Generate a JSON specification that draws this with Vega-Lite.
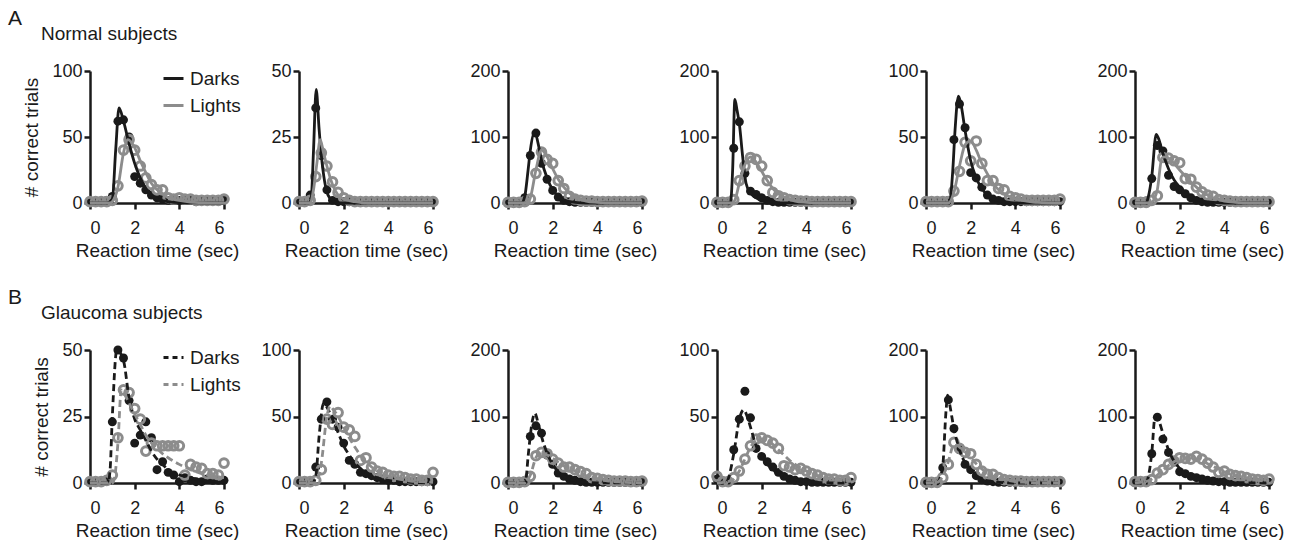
{
"$schema":"https://vega.github.io/schema/vega-lite/v6.json",
"padding":{"left":8,"top":8,"right":5,"bottom":5},
"background":"white",
"config":{
 "font":"Liberation Sans",
 "view":{"stroke":null},
 "axis":{"grid":false,"domainColor":"#1a1a1a","domainWidth":2.5,"tickColor":"#1a1a1a","tickWidth":2.5,"tickSize":6,"labelFont":"Liberation Sans","labelFontSize":18,"labelColor":"#1a1a1a","labelPadding":2,"titleFont":"Liberation Sans","titleFontSize":19,"titleFontWeight":"normal","titleColor":"#1a1a1a"},
 "axisX":{"labelPadding":10,"titlePadding":4},
 "axisY":{"titlePadding":10},
 "title":{"anchor":"start","frame":"group","font":"Liberation Sans","fontWeight":"normal","color":"#1a1a1a"},
 "legend":{"padding":0}
},
"datasets":{
"obs":[
{"p":"A1","s":"Darks","t":0,"v":1},{"p":"A1","s":"Darks","t":0.25,"v":1},{"p":"A1","s":"Darks","t":0.5,"v":1},{"p":"A1","s":"Darks","t":0.75,"v":2},{"p":"A1","s":"Darks","t":1,"v":5},{"p":"A1","s":"Darks","t":1.25,"v":62},{"p":"A1","s":"Darks","t":1.5,"v":63},{"p":"A1","s":"Darks","t":1.75,"v":50},{"p":"A1","s":"Darks","t":2,"v":20},{"p":"A1","s":"Darks","t":2.25,"v":15},{"p":"A1","s":"Darks","t":2.5,"v":10},{"p":"A1","s":"Darks","t":2.75,"v":6},{"p":"A1","s":"Darks","t":3,"v":4},{"p":"A1","s":"Darks","t":3.25,"v":3},{"p":"A1","s":"Darks","t":3.5,"v":2},{"p":"A1","s":"Darks","t":3.75,"v":2},{"p":"A1","s":"Darks","t":4,"v":2},{"p":"A1","s":"Darks","t":4.25,"v":2},{"p":"A1","s":"Darks","t":4.5,"v":2},{"p":"A1","s":"Darks","t":4.75,"v":1},{"p":"A1","s":"Darks","t":5,"v":2},{"p":"A1","s":"Darks","t":5.25,"v":2},{"p":"A1","s":"Darks","t":5.5,"v":2},{"p":"A1","s":"Darks","t":5.75,"v":2},{"p":"A1","s":"Darks","t":6,"v":3},
{"p":"A1","s":"Lights","t":0,"v":1},{"p":"A1","s":"Lights","t":0.25,"v":1},{"p":"A1","s":"Lights","t":0.5,"v":1},{"p":"A1","s":"Lights","t":0.75,"v":1},{"p":"A1","s":"Lights","t":1,"v":2},{"p":"A1","s":"Lights","t":1.25,"v":13},{"p":"A1","s":"Lights","t":1.5,"v":40},{"p":"A1","s":"Lights","t":1.75,"v":48},{"p":"A1","s":"Lights","t":2,"v":40},{"p":"A1","s":"Lights","t":2.25,"v":28},{"p":"A1","s":"Lights","t":2.5,"v":19},{"p":"A1","s":"Lights","t":2.75,"v":14},{"p":"A1","s":"Lights","t":3,"v":10},{"p":"A1","s":"Lights","t":3.25,"v":10},{"p":"A1","s":"Lights","t":3.5,"v":4},{"p":"A1","s":"Lights","t":3.75,"v":3},{"p":"A1","s":"Lights","t":4,"v":4},{"p":"A1","s":"Lights","t":4.25,"v":3},{"p":"A1","s":"Lights","t":4.5,"v":3},{"p":"A1","s":"Lights","t":4.75,"v":2},{"p":"A1","s":"Lights","t":5,"v":2},{"p":"A1","s":"Lights","t":5.25,"v":2},{"p":"A1","s":"Lights","t":5.5,"v":2},{"p":"A1","s":"Lights","t":5.75,"v":2},{"p":"A1","s":"Lights","t":6,"v":3},
{"p":"A2","s":"Darks","t":0,"v":0.5},{"p":"A2","s":"Darks","t":0.25,"v":0.5},{"p":"A2","s":"Darks","t":0.5,"v":3},{"p":"A2","s":"Darks","t":0.75,"v":36},{"p":"A2","s":"Darks","t":1,"v":18},{"p":"A2","s":"Darks","t":1.25,"v":5},{"p":"A2","s":"Darks","t":1.5,"v":1},{"p":"A2","s":"Darks","t":1.75,"v":0.5},{"p":"A2","s":"Darks","t":2,"v":0.5},{"p":"A2","s":"Darks","t":2.25,"v":0.5},{"p":"A2","s":"Darks","t":2.5,"v":0.5},{"p":"A2","s":"Darks","t":2.75,"v":0.5},{"p":"A2","s":"Darks","t":3,"v":0.5},{"p":"A2","s":"Darks","t":3.25,"v":0.5},{"p":"A2","s":"Darks","t":3.5,"v":0.5},{"p":"A2","s":"Darks","t":3.75,"v":0.5},{"p":"A2","s":"Darks","t":4,"v":0.5},{"p":"A2","s":"Darks","t":4.25,"v":0.5},{"p":"A2","s":"Darks","t":4.5,"v":0.5},{"p":"A2","s":"Darks","t":4.75,"v":0.5},{"p":"A2","s":"Darks","t":5,"v":0.5},{"p":"A2","s":"Darks","t":5.25,"v":0.5},{"p":"A2","s":"Darks","t":5.5,"v":0.5},{"p":"A2","s":"Darks","t":5.75,"v":0.5},{"p":"A2","s":"Darks","t":6,"v":0.5},
{"p":"A2","s":"Lights","t":0,"v":0.5},{"p":"A2","s":"Lights","t":0.25,"v":0.5},{"p":"A2","s":"Lights","t":0.5,"v":1},{"p":"A2","s":"Lights","t":0.75,"v":10},{"p":"A2","s":"Lights","t":1,"v":19},{"p":"A2","s":"Lights","t":1.25,"v":14},{"p":"A2","s":"Lights","t":1.5,"v":8},{"p":"A2","s":"Lights","t":1.75,"v":4},{"p":"A2","s":"Lights","t":2,"v":2},{"p":"A2","s":"Lights","t":2.25,"v":1},{"p":"A2","s":"Lights","t":2.5,"v":0.5},{"p":"A2","s":"Lights","t":2.75,"v":0.5},{"p":"A2","s":"Lights","t":3,"v":0.5},{"p":"A2","s":"Lights","t":3.25,"v":0.5},{"p":"A2","s":"Lights","t":3.5,"v":0.5},{"p":"A2","s":"Lights","t":3.75,"v":0.5},{"p":"A2","s":"Lights","t":4,"v":0.5},{"p":"A2","s":"Lights","t":4.25,"v":0.5},{"p":"A2","s":"Lights","t":4.5,"v":0.5},{"p":"A2","s":"Lights","t":4.75,"v":0.5},{"p":"A2","s":"Lights","t":5,"v":0.5},{"p":"A2","s":"Lights","t":5.25,"v":0.5},{"p":"A2","s":"Lights","t":5.5,"v":0.5},{"p":"A2","s":"Lights","t":5.75,"v":0.5},{"p":"A2","s":"Lights","t":6,"v":0.5},
{"p":"A3","s":"Darks","t":0,"v":1},{"p":"A3","s":"Darks","t":0.25,"v":1},{"p":"A3","s":"Darks","t":0.5,"v":2},{"p":"A3","s":"Darks","t":0.75,"v":8},{"p":"A3","s":"Darks","t":1,"v":72},{"p":"A3","s":"Darks","t":1.25,"v":106},{"p":"A3","s":"Darks","t":1.5,"v":60},{"p":"A3","s":"Darks","t":1.75,"v":36},{"p":"A3","s":"Darks","t":2,"v":19},{"p":"A3","s":"Darks","t":2.25,"v":9},{"p":"A3","s":"Darks","t":2.5,"v":4},{"p":"A3","s":"Darks","t":2.75,"v":2},{"p":"A3","s":"Darks","t":3,"v":1},{"p":"A3","s":"Darks","t":3.25,"v":1},{"p":"A3","s":"Darks","t":3.5,"v":1},{"p":"A3","s":"Darks","t":3.75,"v":1},{"p":"A3","s":"Darks","t":4,"v":1},{"p":"A3","s":"Darks","t":4.25,"v":1},{"p":"A3","s":"Darks","t":4.5,"v":1},{"p":"A3","s":"Darks","t":4.75,"v":1},{"p":"A3","s":"Darks","t":5,"v":1},{"p":"A3","s":"Darks","t":5.25,"v":1},{"p":"A3","s":"Darks","t":5.5,"v":1},{"p":"A3","s":"Darks","t":5.75,"v":1},{"p":"A3","s":"Darks","t":6,"v":1},
{"p":"A3","s":"Lights","t":0,"v":1},{"p":"A3","s":"Lights","t":0.25,"v":1},{"p":"A3","s":"Lights","t":0.5,"v":1},{"p":"A3","s":"Lights","t":0.75,"v":2},{"p":"A3","s":"Lights","t":1,"v":6},{"p":"A3","s":"Lights","t":1.25,"v":45},{"p":"A3","s":"Lights","t":1.5,"v":77},{"p":"A3","s":"Lights","t":1.75,"v":66},{"p":"A3","s":"Lights","t":2,"v":60},{"p":"A3","s":"Lights","t":2.25,"v":34},{"p":"A3","s":"Lights","t":2.5,"v":22},{"p":"A3","s":"Lights","t":2.75,"v":10},{"p":"A3","s":"Lights","t":3,"v":6},{"p":"A3","s":"Lights","t":3.25,"v":4},{"p":"A3","s":"Lights","t":3.5,"v":3},{"p":"A3","s":"Lights","t":3.75,"v":3},{"p":"A3","s":"Lights","t":4,"v":2},{"p":"A3","s":"Lights","t":4.25,"v":2},{"p":"A3","s":"Lights","t":4.5,"v":2},{"p":"A3","s":"Lights","t":4.75,"v":2},{"p":"A3","s":"Lights","t":5,"v":2},{"p":"A3","s":"Lights","t":5.25,"v":2},{"p":"A3","s":"Lights","t":5.5,"v":2},{"p":"A3","s":"Lights","t":5.75,"v":2},{"p":"A3","s":"Lights","t":6,"v":3},
{"p":"A4","s":"Darks","t":0,"v":1},{"p":"A4","s":"Darks","t":0.25,"v":1},{"p":"A4","s":"Darks","t":0.5,"v":2},{"p":"A4","s":"Darks","t":0.75,"v":83},{"p":"A4","s":"Darks","t":1,"v":123},{"p":"A4","s":"Darks","t":1.25,"v":45},{"p":"A4","s":"Darks","t":1.5,"v":18},{"p":"A4","s":"Darks","t":1.75,"v":13},{"p":"A4","s":"Darks","t":2,"v":8},{"p":"A4","s":"Darks","t":2.25,"v":4},{"p":"A4","s":"Darks","t":2.5,"v":2},{"p":"A4","s":"Darks","t":2.75,"v":1},{"p":"A4","s":"Darks","t":3,"v":1},{"p":"A4","s":"Darks","t":3.25,"v":1},{"p":"A4","s":"Darks","t":3.5,"v":1},{"p":"A4","s":"Darks","t":3.75,"v":1},{"p":"A4","s":"Darks","t":4,"v":1},{"p":"A4","s":"Darks","t":4.25,"v":1},{"p":"A4","s":"Darks","t":4.5,"v":1},{"p":"A4","s":"Darks","t":4.75,"v":1},{"p":"A4","s":"Darks","t":5,"v":1},{"p":"A4","s":"Darks","t":5.25,"v":1},{"p":"A4","s":"Darks","t":5.5,"v":1},{"p":"A4","s":"Darks","t":5.75,"v":1},{"p":"A4","s":"Darks","t":6,"v":1},
{"p":"A4","s":"Lights","t":0,"v":1},{"p":"A4","s":"Lights","t":0.25,"v":1},{"p":"A4","s":"Lights","t":0.5,"v":1},{"p":"A4","s":"Lights","t":0.75,"v":5},{"p":"A4","s":"Lights","t":1,"v":34},{"p":"A4","s":"Lights","t":1.25,"v":56},{"p":"A4","s":"Lights","t":1.5,"v":69},{"p":"A4","s":"Lights","t":1.75,"v":66},{"p":"A4","s":"Lights","t":2,"v":56},{"p":"A4","s":"Lights","t":2.25,"v":34},{"p":"A4","s":"Lights","t":2.5,"v":16},{"p":"A4","s":"Lights","t":2.75,"v":11},{"p":"A4","s":"Lights","t":3,"v":8},{"p":"A4","s":"Lights","t":3.25,"v":5},{"p":"A4","s":"Lights","t":3.5,"v":4},{"p":"A4","s":"Lights","t":3.75,"v":3},{"p":"A4","s":"Lights","t":4,"v":3},{"p":"A4","s":"Lights","t":4.25,"v":2},{"p":"A4","s":"Lights","t":4.5,"v":2},{"p":"A4","s":"Lights","t":4.75,"v":2},{"p":"A4","s":"Lights","t":5,"v":2},{"p":"A4","s":"Lights","t":5.25,"v":2},{"p":"A4","s":"Lights","t":5.5,"v":2},{"p":"A4","s":"Lights","t":5.75,"v":2},{"p":"A4","s":"Lights","t":6,"v":2},
{"p":"A5","s":"Darks","t":0,"v":1},{"p":"A5","s":"Darks","t":0.25,"v":1},{"p":"A5","s":"Darks","t":0.5,"v":1},{"p":"A5","s":"Darks","t":0.75,"v":1},{"p":"A5","s":"Darks","t":1,"v":2},{"p":"A5","s":"Darks","t":1.25,"v":48},{"p":"A5","s":"Darks","t":1.5,"v":75},{"p":"A5","s":"Darks","t":1.75,"v":57},{"p":"A5","s":"Darks","t":2,"v":23},{"p":"A5","s":"Darks","t":2.25,"v":19},{"p":"A5","s":"Darks","t":2.5,"v":12},{"p":"A5","s":"Darks","t":2.75,"v":6},{"p":"A5","s":"Darks","t":3,"v":3},{"p":"A5","s":"Darks","t":3.25,"v":2},{"p":"A5","s":"Darks","t":3.5,"v":1},{"p":"A5","s":"Darks","t":3.75,"v":1},{"p":"A5","s":"Darks","t":4,"v":1},{"p":"A5","s":"Darks","t":4.25,"v":1},{"p":"A5","s":"Darks","t":4.5,"v":1},{"p":"A5","s":"Darks","t":4.75,"v":1},{"p":"A5","s":"Darks","t":5,"v":1},{"p":"A5","s":"Darks","t":5.25,"v":1},{"p":"A5","s":"Darks","t":5.5,"v":1},{"p":"A5","s":"Darks","t":5.75,"v":1},{"p":"A5","s":"Darks","t":6,"v":1},
{"p":"A5","s":"Lights","t":0,"v":1},{"p":"A5","s":"Lights","t":0.25,"v":1},{"p":"A5","s":"Lights","t":0.5,"v":1},{"p":"A5","s":"Lights","t":0.75,"v":1},{"p":"A5","s":"Lights","t":1,"v":1},{"p":"A5","s":"Lights","t":1.25,"v":9},{"p":"A5","s":"Lights","t":1.5,"v":24},{"p":"A5","s":"Lights","t":1.75,"v":46},{"p":"A5","s":"Lights","t":2,"v":32},{"p":"A5","s":"Lights","t":2.25,"v":47},{"p":"A5","s":"Lights","t":2.5,"v":30},{"p":"A5","s":"Lights","t":2.75,"v":17},{"p":"A5","s":"Lights","t":3,"v":17},{"p":"A5","s":"Lights","t":3.25,"v":11},{"p":"A5","s":"Lights","t":3.5,"v":10},{"p":"A5","s":"Lights","t":3.75,"v":5},{"p":"A5","s":"Lights","t":4,"v":4},{"p":"A5","s":"Lights","t":4.25,"v":3},{"p":"A5","s":"Lights","t":4.5,"v":2},{"p":"A5","s":"Lights","t":4.75,"v":2},{"p":"A5","s":"Lights","t":5,"v":2},{"p":"A5","s":"Lights","t":5.25,"v":2},{"p":"A5","s":"Lights","t":5.5,"v":2},{"p":"A5","s":"Lights","t":5.75,"v":2},{"p":"A5","s":"Lights","t":6,"v":3},
{"p":"A6","s":"Darks","t":0,"v":1},{"p":"A6","s":"Darks","t":0.25,"v":1},{"p":"A6","s":"Darks","t":0.5,"v":3},{"p":"A6","s":"Darks","t":0.75,"v":37},{"p":"A6","s":"Darks","t":1,"v":87},{"p":"A6","s":"Darks","t":1.25,"v":79},{"p":"A6","s":"Darks","t":1.5,"v":42},{"p":"A6","s":"Darks","t":1.75,"v":25},{"p":"A6","s":"Darks","t":2,"v":20},{"p":"A6","s":"Darks","t":2.25,"v":14},{"p":"A6","s":"Darks","t":2.5,"v":8},{"p":"A6","s":"Darks","t":2.75,"v":4},{"p":"A6","s":"Darks","t":3,"v":2},{"p":"A6","s":"Darks","t":3.25,"v":1},{"p":"A6","s":"Darks","t":3.5,"v":1},{"p":"A6","s":"Darks","t":3.75,"v":1},{"p":"A6","s":"Darks","t":4,"v":1},{"p":"A6","s":"Darks","t":4.25,"v":1},{"p":"A6","s":"Darks","t":4.5,"v":1},{"p":"A6","s":"Darks","t":4.75,"v":1},{"p":"A6","s":"Darks","t":5,"v":1},{"p":"A6","s":"Darks","t":5.25,"v":1},{"p":"A6","s":"Darks","t":5.5,"v":1},{"p":"A6","s":"Darks","t":5.75,"v":1},{"p":"A6","s":"Darks","t":6,"v":1},
{"p":"A6","s":"Lights","t":0,"v":1},{"p":"A6","s":"Lights","t":0.25,"v":1},{"p":"A6","s":"Lights","t":0.5,"v":1},{"p":"A6","s":"Lights","t":0.75,"v":4},{"p":"A6","s":"Lights","t":1,"v":11},{"p":"A6","s":"Lights","t":1.25,"v":69},{"p":"A6","s":"Lights","t":1.5,"v":68},{"p":"A6","s":"Lights","t":1.75,"v":64},{"p":"A6","s":"Lights","t":2,"v":61},{"p":"A6","s":"Lights","t":2.25,"v":37},{"p":"A6","s":"Lights","t":2.5,"v":36},{"p":"A6","s":"Lights","t":2.75,"v":24},{"p":"A6","s":"Lights","t":3,"v":17},{"p":"A6","s":"Lights","t":3.25,"v":12},{"p":"A6","s":"Lights","t":3.5,"v":10},{"p":"A6","s":"Lights","t":3.75,"v":5},{"p":"A6","s":"Lights","t":4,"v":4},{"p":"A6","s":"Lights","t":4.25,"v":3},{"p":"A6","s":"Lights","t":4.5,"v":2},{"p":"A6","s":"Lights","t":4.75,"v":2},{"p":"A6","s":"Lights","t":5,"v":2},{"p":"A6","s":"Lights","t":5.25,"v":2},{"p":"A6","s":"Lights","t":5.5,"v":2},{"p":"A6","s":"Lights","t":5.75,"v":2},{"p":"A6","s":"Lights","t":6,"v":2},
{"p":"B1","s":"Darks","t":0,"v":0.5},{"p":"B1","s":"Darks","t":0.25,"v":0.5},{"p":"B1","s":"Darks","t":0.5,"v":0.5},{"p":"B1","s":"Darks","t":0.75,"v":1},{"p":"B1","s":"Darks","t":1,"v":23},{"p":"B1","s":"Darks","t":1.25,"v":50},{"p":"B1","s":"Darks","t":1.5,"v":47},{"p":"B1","s":"Darks","t":1.75,"v":31},{"p":"B1","s":"Darks","t":2,"v":15},{"p":"B1","s":"Darks","t":2.25,"v":18},{"p":"B1","s":"Darks","t":2.5,"v":23},{"p":"B1","s":"Darks","t":2.75,"v":17},{"p":"B1","s":"Darks","t":3,"v":5},{"p":"B1","s":"Darks","t":3.25,"v":8},{"p":"B1","s":"Darks","t":3.5,"v":4},{"p":"B1","s":"Darks","t":3.75,"v":3},{"p":"B1","s":"Darks","t":4,"v":0.5},{"p":"B1","s":"Darks","t":4.25,"v":2},{"p":"B1","s":"Darks","t":4.5,"v":1},{"p":"B1","s":"Darks","t":4.75,"v":0.5},{"p":"B1","s":"Darks","t":5,"v":0.5},{"p":"B1","s":"Darks","t":5.25,"v":1.5},{"p":"B1","s":"Darks","t":5.5,"v":1},{"p":"B1","s":"Darks","t":5.75,"v":1},{"p":"B1","s":"Darks","t":6,"v":1},
{"p":"B1","s":"Lights","t":0,"v":0.5},{"p":"B1","s":"Lights","t":0.25,"v":0.5},{"p":"B1","s":"Lights","t":0.5,"v":0.5},{"p":"B1","s":"Lights","t":0.75,"v":1},{"p":"B1","s":"Lights","t":1,"v":3},{"p":"B1","s":"Lights","t":1.25,"v":17},{"p":"B1","s":"Lights","t":1.5,"v":35},{"p":"B1","s":"Lights","t":1.75,"v":34},{"p":"B1","s":"Lights","t":2,"v":28},{"p":"B1","s":"Lights","t":2.25,"v":24},{"p":"B1","s":"Lights","t":2.5,"v":12},{"p":"B1","s":"Lights","t":2.75,"v":15},{"p":"B1","s":"Lights","t":3,"v":14},{"p":"B1","s":"Lights","t":3.25,"v":14},{"p":"B1","s":"Lights","t":3.5,"v":14},{"p":"B1","s":"Lights","t":3.75,"v":14},{"p":"B1","s":"Lights","t":4,"v":14},{"p":"B1","s":"Lights","t":4.25,"v":3},{"p":"B1","s":"Lights","t":4.5,"v":7},{"p":"B1","s":"Lights","t":4.75,"v":6},{"p":"B1","s":"Lights","t":5,"v":5.5},{"p":"B1","s":"Lights","t":5.25,"v":3.5},{"p":"B1","s":"Lights","t":5.5,"v":3.5},{"p":"B1","s":"Lights","t":5.75,"v":3},{"p":"B1","s":"Lights","t":6,"v":7.5},
{"p":"B2","s":"Darks","t":0,"v":0.5},{"p":"B2","s":"Darks","t":0.25,"v":0.5},{"p":"B2","s":"Darks","t":0.5,"v":1},{"p":"B2","s":"Darks","t":0.75,"v":12},{"p":"B2","s":"Darks","t":1,"v":48},{"p":"B2","s":"Darks","t":1.25,"v":61},{"p":"B2","s":"Darks","t":1.5,"v":48},{"p":"B2","s":"Darks","t":1.75,"v":42},{"p":"B2","s":"Darks","t":2,"v":30},{"p":"B2","s":"Darks","t":2.25,"v":17},{"p":"B2","s":"Darks","t":2.5,"v":14},{"p":"B2","s":"Darks","t":2.75,"v":8},{"p":"B2","s":"Darks","t":3,"v":7},{"p":"B2","s":"Darks","t":3.25,"v":5.5},{"p":"B2","s":"Darks","t":3.5,"v":4},{"p":"B2","s":"Darks","t":3.75,"v":3},{"p":"B2","s":"Darks","t":4,"v":2},{"p":"B2","s":"Darks","t":4.25,"v":2},{"p":"B2","s":"Darks","t":4.5,"v":1},{"p":"B2","s":"Darks","t":4.75,"v":1},{"p":"B2","s":"Darks","t":5,"v":1},{"p":"B2","s":"Darks","t":5.25,"v":1},{"p":"B2","s":"Darks","t":5.5,"v":1},{"p":"B2","s":"Darks","t":5.75,"v":1},{"p":"B2","s":"Darks","t":6,"v":1},
{"p":"B2","s":"Lights","t":0,"v":1},{"p":"B2","s":"Lights","t":0.25,"v":1},{"p":"B2","s":"Lights","t":0.5,"v":1},{"p":"B2","s":"Lights","t":0.75,"v":2},{"p":"B2","s":"Lights","t":1,"v":10},{"p":"B2","s":"Lights","t":1.25,"v":48},{"p":"B2","s":"Lights","t":1.5,"v":44},{"p":"B2","s":"Lights","t":1.75,"v":53},{"p":"B2","s":"Lights","t":2,"v":42},{"p":"B2","s":"Lights","t":2.25,"v":40},{"p":"B2","s":"Lights","t":2.5,"v":35},{"p":"B2","s":"Lights","t":2.75,"v":17},{"p":"B2","s":"Lights","t":3,"v":19},{"p":"B2","s":"Lights","t":3.25,"v":12},{"p":"B2","s":"Lights","t":3.5,"v":9},{"p":"B2","s":"Lights","t":3.75,"v":8},{"p":"B2","s":"Lights","t":4,"v":6},{"p":"B2","s":"Lights","t":4.25,"v":5},{"p":"B2","s":"Lights","t":4.5,"v":5},{"p":"B2","s":"Lights","t":4.75,"v":4},{"p":"B2","s":"Lights","t":5,"v":3},{"p":"B2","s":"Lights","t":5.25,"v":3},{"p":"B2","s":"Lights","t":5.5,"v":2},{"p":"B2","s":"Lights","t":5.75,"v":2},{"p":"B2","s":"Lights","t":6,"v":8},
{"p":"B3","s":"Darks","t":0,"v":1},{"p":"B3","s":"Darks","t":0.25,"v":1},{"p":"B3","s":"Darks","t":0.5,"v":1},{"p":"B3","s":"Darks","t":0.75,"v":3},{"p":"B3","s":"Darks","t":1,"v":70},{"p":"B3","s":"Darks","t":1.25,"v":86},{"p":"B3","s":"Darks","t":1.5,"v":75},{"p":"B3","s":"Darks","t":1.75,"v":42},{"p":"B3","s":"Darks","t":2,"v":28},{"p":"B3","s":"Darks","t":2.25,"v":15},{"p":"B3","s":"Darks","t":2.5,"v":10},{"p":"B3","s":"Darks","t":2.75,"v":6},{"p":"B3","s":"Darks","t":3,"v":4},{"p":"B3","s":"Darks","t":3.25,"v":2},{"p":"B3","s":"Darks","t":3.5,"v":1},{"p":"B3","s":"Darks","t":3.75,"v":1},{"p":"B3","s":"Darks","t":4,"v":1},{"p":"B3","s":"Darks","t":4.25,"v":1},{"p":"B3","s":"Darks","t":4.5,"v":1},{"p":"B3","s":"Darks","t":4.75,"v":1},{"p":"B3","s":"Darks","t":5,"v":1},{"p":"B3","s":"Darks","t":5.25,"v":1},{"p":"B3","s":"Darks","t":5.5,"v":1},{"p":"B3","s":"Darks","t":5.75,"v":1},{"p":"B3","s":"Darks","t":6,"v":1},
{"p":"B3","s":"Lights","t":0,"v":1},{"p":"B3","s":"Lights","t":0.25,"v":1},{"p":"B3","s":"Lights","t":0.5,"v":1},{"p":"B3","s":"Lights","t":0.75,"v":2},{"p":"B3","s":"Lights","t":1,"v":10},{"p":"B3","s":"Lights","t":1.25,"v":41},{"p":"B3","s":"Lights","t":1.5,"v":46},{"p":"B3","s":"Lights","t":1.75,"v":44},{"p":"B3","s":"Lights","t":2,"v":36},{"p":"B3","s":"Lights","t":2.25,"v":30},{"p":"B3","s":"Lights","t":2.5,"v":24},{"p":"B3","s":"Lights","t":2.75,"v":24},{"p":"B3","s":"Lights","t":3,"v":20},{"p":"B3","s":"Lights","t":3.25,"v":17},{"p":"B3","s":"Lights","t":3.5,"v":14},{"p":"B3","s":"Lights","t":3.75,"v":8},{"p":"B3","s":"Lights","t":4,"v":7},{"p":"B3","s":"Lights","t":4.25,"v":5},{"p":"B3","s":"Lights","t":4.5,"v":4},{"p":"B3","s":"Lights","t":4.75,"v":3},{"p":"B3","s":"Lights","t":5,"v":3},{"p":"B3","s":"Lights","t":5.25,"v":3},{"p":"B3","s":"Lights","t":5.5,"v":2},{"p":"B3","s":"Lights","t":5.75,"v":2},{"p":"B3","s":"Lights","t":6,"v":3},
{"p":"B4","s":"Darks","t":0,"v":3},{"p":"B4","s":"Darks","t":0.25,"v":0.5},{"p":"B4","s":"Darks","t":0.5,"v":0.5},{"p":"B4","s":"Darks","t":0.75,"v":25},{"p":"B4","s":"Darks","t":1,"v":48},{"p":"B4","s":"Darks","t":1.25,"v":69},{"p":"B4","s":"Darks","t":1.5,"v":49},{"p":"B4","s":"Darks","t":1.75,"v":26},{"p":"B4","s":"Darks","t":2,"v":20},{"p":"B4","s":"Darks","t":2.25,"v":16},{"p":"B4","s":"Darks","t":2.5,"v":12},{"p":"B4","s":"Darks","t":2.75,"v":8},{"p":"B4","s":"Darks","t":3,"v":5},{"p":"B4","s":"Darks","t":3.25,"v":3},{"p":"B4","s":"Darks","t":3.5,"v":2},{"p":"B4","s":"Darks","t":3.75,"v":1},{"p":"B4","s":"Darks","t":4,"v":1},{"p":"B4","s":"Darks","t":4.25,"v":0.5},{"p":"B4","s":"Darks","t":4.5,"v":0.5},{"p":"B4","s":"Darks","t":4.75,"v":0.5},{"p":"B4","s":"Darks","t":5,"v":0.5},{"p":"B4","s":"Darks","t":5.25,"v":0.5},{"p":"B4","s":"Darks","t":5.5,"v":0.5},{"p":"B4","s":"Darks","t":5.75,"v":0.5},{"p":"B4","s":"Darks","t":6,"v":0.5},
{"p":"B4","s":"Lights","t":0,"v":5},{"p":"B4","s":"Lights","t":0.25,"v":1},{"p":"B4","s":"Lights","t":0.5,"v":1},{"p":"B4","s":"Lights","t":0.75,"v":4},{"p":"B4","s":"Lights","t":1,"v":9},{"p":"B4","s":"Lights","t":1.25,"v":18},{"p":"B4","s":"Lights","t":1.5,"v":28},{"p":"B4","s":"Lights","t":1.75,"v":33},{"p":"B4","s":"Lights","t":2,"v":34},{"p":"B4","s":"Lights","t":2.25,"v":32},{"p":"B4","s":"Lights","t":2.5,"v":30},{"p":"B4","s":"Lights","t":2.75,"v":26},{"p":"B4","s":"Lights","t":3,"v":13},{"p":"B4","s":"Lights","t":3.25,"v":12},{"p":"B4","s":"Lights","t":3.5,"v":10},{"p":"B4","s":"Lights","t":3.75,"v":11},{"p":"B4","s":"Lights","t":4,"v":9},{"p":"B4","s":"Lights","t":4.25,"v":7},{"p":"B4","s":"Lights","t":4.5,"v":6},{"p":"B4","s":"Lights","t":4.75,"v":4},{"p":"B4","s":"Lights","t":5,"v":3},{"p":"B4","s":"Lights","t":5.25,"v":3},{"p":"B4","s":"Lights","t":5.5,"v":2},{"p":"B4","s":"Lights","t":5.75,"v":2},{"p":"B4","s":"Lights","t":6,"v":4},
{"p":"B5","s":"Darks","t":0,"v":1},{"p":"B5","s":"Darks","t":0.25,"v":1},{"p":"B5","s":"Darks","t":0.5,"v":1},{"p":"B5","s":"Darks","t":0.75,"v":23},{"p":"B5","s":"Darks","t":1,"v":125},{"p":"B5","s":"Darks","t":1.25,"v":82},{"p":"B5","s":"Darks","t":1.5,"v":50},{"p":"B5","s":"Darks","t":1.75,"v":28},{"p":"B5","s":"Darks","t":2,"v":20},{"p":"B5","s":"Darks","t":2.25,"v":11},{"p":"B5","s":"Darks","t":2.5,"v":5},{"p":"B5","s":"Darks","t":2.75,"v":3},{"p":"B5","s":"Darks","t":3,"v":2},{"p":"B5","s":"Darks","t":3.25,"v":1},{"p":"B5","s":"Darks","t":3.5,"v":1},{"p":"B5","s":"Darks","t":3.75,"v":1},{"p":"B5","s":"Darks","t":4,"v":1},{"p":"B5","s":"Darks","t":4.25,"v":1},{"p":"B5","s":"Darks","t":4.5,"v":1},{"p":"B5","s":"Darks","t":4.75,"v":1},{"p":"B5","s":"Darks","t":5,"v":1},{"p":"B5","s":"Darks","t":5.25,"v":1},{"p":"B5","s":"Darks","t":5.5,"v":1},{"p":"B5","s":"Darks","t":5.75,"v":1},{"p":"B5","s":"Darks","t":6,"v":1},
{"p":"B5","s":"Lights","t":0,"v":1},{"p":"B5","s":"Lights","t":0.25,"v":1},{"p":"B5","s":"Lights","t":0.5,"v":1},{"p":"B5","s":"Lights","t":0.75,"v":8},{"p":"B5","s":"Lights","t":1,"v":28},{"p":"B5","s":"Lights","t":1.25,"v":61},{"p":"B5","s":"Lights","t":1.5,"v":52},{"p":"B5","s":"Lights","t":1.75,"v":46},{"p":"B5","s":"Lights","t":2,"v":44},{"p":"B5","s":"Lights","t":2.25,"v":28},{"p":"B5","s":"Lights","t":2.5,"v":18},{"p":"B5","s":"Lights","t":2.75,"v":13},{"p":"B5","s":"Lights","t":3,"v":13},{"p":"B5","s":"Lights","t":3.25,"v":8},{"p":"B5","s":"Lights","t":3.5,"v":5},{"p":"B5","s":"Lights","t":3.75,"v":4},{"p":"B5","s":"Lights","t":4,"v":3},{"p":"B5","s":"Lights","t":4.25,"v":3},{"p":"B5","s":"Lights","t":4.5,"v":2},{"p":"B5","s":"Lights","t":4.75,"v":2},{"p":"B5","s":"Lights","t":5,"v":2},{"p":"B5","s":"Lights","t":5.25,"v":2},{"p":"B5","s":"Lights","t":5.5,"v":2},{"p":"B5","s":"Lights","t":5.75,"v":2},{"p":"B5","s":"Lights","t":6,"v":2},
{"p":"B6","s":"Darks","t":0,"v":1},{"p":"B6","s":"Darks","t":0.25,"v":1},{"p":"B6","s":"Darks","t":0.5,"v":1},{"p":"B6","s":"Darks","t":0.75,"v":44},{"p":"B6","s":"Darks","t":1,"v":99},{"p":"B6","s":"Darks","t":1.25,"v":66},{"p":"B6","s":"Darks","t":1.5,"v":46},{"p":"B6","s":"Darks","t":1.75,"v":32},{"p":"B6","s":"Darks","t":2,"v":17},{"p":"B6","s":"Darks","t":2.25,"v":14},{"p":"B6","s":"Darks","t":2.5,"v":10},{"p":"B6","s":"Darks","t":2.75,"v":8},{"p":"B6","s":"Darks","t":3,"v":6},{"p":"B6","s":"Darks","t":3.25,"v":4},{"p":"B6","s":"Darks","t":3.5,"v":3},{"p":"B6","s":"Darks","t":3.75,"v":2},{"p":"B6","s":"Darks","t":4,"v":2},{"p":"B6","s":"Darks","t":4.25,"v":1},{"p":"B6","s":"Darks","t":4.5,"v":1},{"p":"B6","s":"Darks","t":4.75,"v":1},{"p":"B6","s":"Darks","t":5,"v":1},{"p":"B6","s":"Darks","t":5.25,"v":1},{"p":"B6","s":"Darks","t":5.5,"v":1},{"p":"B6","s":"Darks","t":5.75,"v":1},{"p":"B6","s":"Darks","t":6,"v":1},
{"p":"B6","s":"Lights","t":0,"v":2},{"p":"B6","s":"Lights","t":0.25,"v":2},{"p":"B6","s":"Lights","t":0.5,"v":2},{"p":"B6","s":"Lights","t":0.75,"v":5},{"p":"B6","s":"Lights","t":1,"v":15},{"p":"B6","s":"Lights","t":1.25,"v":20},{"p":"B6","s":"Lights","t":1.5,"v":28},{"p":"B6","s":"Lights","t":1.75,"v":33},{"p":"B6","s":"Lights","t":2,"v":38},{"p":"B6","s":"Lights","t":2.25,"v":37},{"p":"B6","s":"Lights","t":2.5,"v":36},{"p":"B6","s":"Lights","t":2.75,"v":40},{"p":"B6","s":"Lights","t":3,"v":36},{"p":"B6","s":"Lights","t":3.25,"v":30},{"p":"B6","s":"Lights","t":3.5,"v":24},{"p":"B6","s":"Lights","t":3.75,"v":16},{"p":"B6","s":"Lights","t":4,"v":18},{"p":"B6","s":"Lights","t":4.25,"v":13},{"p":"B6","s":"Lights","t":4.5,"v":11},{"p":"B6","s":"Lights","t":4.75,"v":10},{"p":"B6","s":"Lights","t":5,"v":8},{"p":"B6","s":"Lights","t":5.25,"v":6},{"p":"B6","s":"Lights","t":5.5,"v":5},{"p":"B6","s":"Lights","t":5.75,"v":4},{"p":"B6","s":"Lights","t":6,"v":6}
],
"fit":[
{"p":"A1","s":"Darks","t":0,"v":0},{"p":"A1","s":"Darks","t":0.75,"v":0},{"p":"A1","s":"Darks","t":1,"v":3},{"p":"A1","s":"Darks","t":1.15,"v":40},{"p":"A1","s":"Darks","t":1.3,"v":72},{"p":"A1","s":"Darks","t":1.5,"v":62},{"p":"A1","s":"Darks","t":1.75,"v":45},{"p":"A1","s":"Darks","t":2,"v":30},{"p":"A1","s":"Darks","t":2.25,"v":19},{"p":"A1","s":"Darks","t":2.5,"v":11},{"p":"A1","s":"Darks","t":2.75,"v":6},{"p":"A1","s":"Darks","t":3,"v":3},{"p":"A1","s":"Darks","t":3.5,"v":1},{"p":"A1","s":"Darks","t":4,"v":0.3},{"p":"A1","s":"Darks","t":6,"v":0},
{"p":"A1","s":"Lights","t":0,"v":0},{"p":"A1","s":"Lights","t":0.9,"v":0},{"p":"A1","s":"Lights","t":1,"v":1},{"p":"A1","s":"Lights","t":1.25,"v":12},{"p":"A1","s":"Lights","t":1.5,"v":38},{"p":"A1","s":"Lights","t":1.7,"v":48},{"p":"A1","s":"Lights","t":2,"v":42},{"p":"A1","s":"Lights","t":2.25,"v":32},{"p":"A1","s":"Lights","t":2.5,"v":23},{"p":"A1","s":"Lights","t":2.75,"v":15},{"p":"A1","s":"Lights","t":3,"v":10},{"p":"A1","s":"Lights","t":3.25,"v":7},{"p":"A1","s":"Lights","t":3.5,"v":4},{"p":"A1","s":"Lights","t":4,"v":2},{"p":"A1","s":"Lights","t":4.5,"v":0.7},{"p":"A1","s":"Lights","t":5,"v":0.3},{"p":"A1","s":"Lights","t":6,"v":0},
{"p":"A2","s":"Darks","t":0,"v":0},{"p":"A2","s":"Darks","t":0.45,"v":0},{"p":"A2","s":"Darks","t":0.55,"v":2},{"p":"A2","s":"Darks","t":0.65,"v":20},{"p":"A2","s":"Darks","t":0.77,"v":43},{"p":"A2","s":"Darks","t":0.9,"v":28},{"p":"A2","s":"Darks","t":1,"v":18},{"p":"A2","s":"Darks","t":1.15,"v":8},{"p":"A2","s":"Darks","t":1.3,"v":3},{"p":"A2","s":"Darks","t":1.5,"v":1},{"p":"A2","s":"Darks","t":1.7,"v":0},{"p":"A2","s":"Darks","t":6,"v":0},
{"p":"A2","s":"Lights","t":0,"v":0},{"p":"A2","s":"Lights","t":0.5,"v":0},{"p":"A2","s":"Lights","t":0.65,"v":5},{"p":"A2","s":"Lights","t":0.8,"v":15},{"p":"A2","s":"Lights","t":0.95,"v":24},{"p":"A2","s":"Lights","t":1.1,"v":19},{"p":"A2","s":"Lights","t":1.25,"v":14},{"p":"A2","s":"Lights","t":1.5,"v":7},{"p":"A2","s":"Lights","t":1.75,"v":3},{"p":"A2","s":"Lights","t":2,"v":1.5},{"p":"A2","s":"Lights","t":2.5,"v":0.5},{"p":"A2","s":"Lights","t":3,"v":0},{"p":"A2","s":"Lights","t":6,"v":0},
{"p":"A3","s":"Darks","t":0,"v":0},{"p":"A3","s":"Darks","t":0.6,"v":0},{"p":"A3","s":"Darks","t":0.75,"v":10},{"p":"A3","s":"Darks","t":0.9,"v":50},{"p":"A3","s":"Darks","t":1,"v":80},{"p":"A3","s":"Darks","t":1.2,"v":108},{"p":"A3","s":"Darks","t":1.35,"v":90},{"p":"A3","s":"Darks","t":1.5,"v":65},{"p":"A3","s":"Darks","t":1.75,"v":38},{"p":"A3","s":"Darks","t":2,"v":20},{"p":"A3","s":"Darks","t":2.25,"v":10},{"p":"A3","s":"Darks","t":2.5,"v":5},{"p":"A3","s":"Darks","t":3,"v":1},{"p":"A3","s":"Darks","t":3.5,"v":0},{"p":"A3","s":"Darks","t":6,"v":0},
{"p":"A3","s":"Lights","t":0,"v":0},{"p":"A3","s":"Lights","t":0.85,"v":0},{"p":"A3","s":"Lights","t":1,"v":8},{"p":"A3","s":"Lights","t":1.25,"v":50},{"p":"A3","s":"Lights","t":1.5,"v":80},{"p":"A3","s":"Lights","t":1.75,"v":70},{"p":"A3","s":"Lights","t":2,"v":52},{"p":"A3","s":"Lights","t":2.25,"v":36},{"p":"A3","s":"Lights","t":2.5,"v":24},{"p":"A3","s":"Lights","t":2.75,"v":15},{"p":"A3","s":"Lights","t":3,"v":9},{"p":"A3","s":"Lights","t":3.5,"v":3},{"p":"A3","s":"Lights","t":4,"v":1},{"p":"A3","s":"Lights","t":4.5,"v":0},{"p":"A3","s":"Lights","t":6,"v":0},
{"p":"A4","s":"Darks","t":0,"v":0},{"p":"A4","s":"Darks","t":0.6,"v":0},{"p":"A4","s":"Darks","t":0.7,"v":50},{"p":"A4","s":"Darks","t":0.8,"v":157},{"p":"A4","s":"Darks","t":0.9,"v":140},{"p":"A4","s":"Darks","t":1,"v":120},{"p":"A4","s":"Darks","t":1.15,"v":70},{"p":"A4","s":"Darks","t":1.3,"v":30},{"p":"A4","s":"Darks","t":1.5,"v":15},{"p":"A4","s":"Darks","t":1.75,"v":8},{"p":"A4","s":"Darks","t":2,"v":4},{"p":"A4","s":"Darks","t":2.5,"v":1},{"p":"A4","s":"Darks","t":3,"v":0},{"p":"A4","s":"Darks","t":6,"v":0},
{"p":"A4","s":"Lights","t":0,"v":0},{"p":"A4","s":"Lights","t":0.7,"v":0},{"p":"A4","s":"Lights","t":0.8,"v":4},{"p":"A4","s":"Lights","t":1,"v":30},{"p":"A4","s":"Lights","t":1.25,"v":58},{"p":"A4","s":"Lights","t":1.5,"v":70},{"p":"A4","s":"Lights","t":1.75,"v":62},{"p":"A4","s":"Lights","t":2,"v":48},{"p":"A4","s":"Lights","t":2.25,"v":34},{"p":"A4","s":"Lights","t":2.5,"v":22},{"p":"A4","s":"Lights","t":2.75,"v":14},{"p":"A4","s":"Lights","t":3,"v":9},{"p":"A4","s":"Lights","t":3.5,"v":3},{"p":"A4","s":"Lights","t":4,"v":1},{"p":"A4","s":"Lights","t":4.5,"v":0},{"p":"A4","s":"Lights","t":6,"v":0},
{"p":"A5","s":"Darks","t":0,"v":0},{"p":"A5","s":"Darks","t":1.05,"v":0},{"p":"A5","s":"Darks","t":1.2,"v":25},{"p":"A5","s":"Darks","t":1.3,"v":55},{"p":"A5","s":"Darks","t":1.45,"v":81},{"p":"A5","s":"Darks","t":1.55,"v":76},{"p":"A5","s":"Darks","t":1.75,"v":55},{"p":"A5","s":"Darks","t":2,"v":32},{"p":"A5","s":"Darks","t":2.25,"v":19},{"p":"A5","s":"Darks","t":2.5,"v":11},{"p":"A5","s":"Darks","t":2.75,"v":6},{"p":"A5","s":"Darks","t":3,"v":3},{"p":"A5","s":"Darks","t":3.5,"v":1},{"p":"A5","s":"Darks","t":4,"v":0},{"p":"A5","s":"Darks","t":6,"v":0},
{"p":"A5","s":"Lights","t":0,"v":0},{"p":"A5","s":"Lights","t":1,"v":0},{"p":"A5","s":"Lights","t":1.25,"v":8},{"p":"A5","s":"Lights","t":1.5,"v":28},{"p":"A5","s":"Lights","t":1.75,"v":44},{"p":"A5","s":"Lights","t":2,"v":47},{"p":"A5","s":"Lights","t":2.25,"v":40},{"p":"A5","s":"Lights","t":2.5,"v":30},{"p":"A5","s":"Lights","t":2.75,"v":22},{"p":"A5","s":"Lights","t":3,"v":15},{"p":"A5","s":"Lights","t":3.25,"v":10},{"p":"A5","s":"Lights","t":3.5,"v":7},{"p":"A5","s":"Lights","t":4,"v":3},{"p":"A5","s":"Lights","t":4.5,"v":1.5},{"p":"A5","s":"Lights","t":5,"v":0.5},{"p":"A5","s":"Lights","t":6,"v":0},
{"p":"A6","s":"Darks","t":0,"v":0},{"p":"A6","s":"Darks","t":0.5,"v":0},{"p":"A6","s":"Darks","t":0.6,"v":10},{"p":"A6","s":"Darks","t":0.75,"v":40},{"p":"A6","s":"Darks","t":0.95,"v":104},{"p":"A6","s":"Darks","t":1.05,"v":98},{"p":"A6","s":"Darks","t":1.25,"v":75},{"p":"A6","s":"Darks","t":1.5,"v":52},{"p":"A6","s":"Darks","t":1.75,"v":35},{"p":"A6","s":"Darks","t":2,"v":24},{"p":"A6","s":"Darks","t":2.25,"v":16},{"p":"A6","s":"Darks","t":2.5,"v":10},{"p":"A6","s":"Darks","t":2.75,"v":6},{"p":"A6","s":"Darks","t":3,"v":3},{"p":"A6","s":"Darks","t":3.5,"v":1},{"p":"A6","s":"Darks","t":4,"v":0},{"p":"A6","s":"Darks","t":6,"v":0},
{"p":"A6","s":"Lights","t":0,"v":0},{"p":"A6","s":"Lights","t":0.7,"v":0},{"p":"A6","s":"Lights","t":0.85,"v":5},{"p":"A6","s":"Lights","t":1,"v":20},{"p":"A6","s":"Lights","t":1.2,"v":68},{"p":"A6","s":"Lights","t":1.3,"v":70},{"p":"A6","s":"Lights","t":1.5,"v":68},{"p":"A6","s":"Lights","t":1.75,"v":60},{"p":"A6","s":"Lights","t":2,"v":50},{"p":"A6","s":"Lights","t":2.25,"v":41},{"p":"A6","s":"Lights","t":2.5,"v":32},{"p":"A6","s":"Lights","t":2.75,"v":24},{"p":"A6","s":"Lights","t":3,"v":17},{"p":"A6","s":"Lights","t":3.25,"v":12},{"p":"A6","s":"Lights","t":3.5,"v":8},{"p":"A6","s":"Lights","t":4,"v":3},{"p":"A6","s":"Lights","t":4.5,"v":1},{"p":"A6","s":"Lights","t":5,"v":0},{"p":"A6","s":"Lights","t":6,"v":0},
{"p":"B1","s":"Darks","t":0,"v":0},{"p":"B1","s":"Darks","t":0.8,"v":0},{"p":"B1","s":"Darks","t":0.9,"v":5},{"p":"B1","s":"Darks","t":1,"v":25},{"p":"B1","s":"Darks","t":1.2,"v":50},{"p":"B1","s":"Darks","t":1.5,"v":46},{"p":"B1","s":"Darks","t":1.75,"v":32},{"p":"B1","s":"Darks","t":2,"v":24},{"p":"B1","s":"Darks","t":2.25,"v":20},{"p":"B1","s":"Darks","t":2.5,"v":16},{"p":"B1","s":"Darks","t":2.75,"v":12},{"p":"B1","s":"Darks","t":3,"v":9},{"p":"B1","s":"Darks","t":3.25,"v":7},{"p":"B1","s":"Darks","t":3.5,"v":5},{"p":"B1","s":"Darks","t":4,"v":3},{"p":"B1","s":"Darks","t":4.5,"v":2},{"p":"B1","s":"Darks","t":5,"v":1},{"p":"B1","s":"Darks","t":5.5,"v":0.6},{"p":"B1","s":"Darks","t":6,"v":0.4},
{"p":"B1","s":"Lights","t":0,"v":0},{"p":"B1","s":"Lights","t":1,"v":0},{"p":"B1","s":"Lights","t":1.1,"v":2},{"p":"B1","s":"Lights","t":1.25,"v":15},{"p":"B1","s":"Lights","t":1.4,"v":35},{"p":"B1","s":"Lights","t":1.5,"v":34},{"p":"B1","s":"Lights","t":1.75,"v":30},{"p":"B1","s":"Lights","t":2,"v":26},{"p":"B1","s":"Lights","t":2.25,"v":22},{"p":"B1","s":"Lights","t":2.5,"v":18},{"p":"B1","s":"Lights","t":2.75,"v":15},{"p":"B1","s":"Lights","t":3,"v":13},{"p":"B1","s":"Lights","t":3.25,"v":11},{"p":"B1","s":"Lights","t":3.5,"v":9.5},{"p":"B1","s":"Lights","t":4,"v":7},{"p":"B1","s":"Lights","t":4.5,"v":5},{"p":"B1","s":"Lights","t":5,"v":3.5},{"p":"B1","s":"Lights","t":5.5,"v":2.5},{"p":"B1","s":"Lights","t":6,"v":2},
{"p":"B2","s":"Darks","t":0,"v":0},{"p":"B2","s":"Darks","t":0.6,"v":0},{"p":"B2","s":"Darks","t":0.75,"v":5},{"p":"B2","s":"Darks","t":0.9,"v":35},{"p":"B2","s":"Darks","t":1.1,"v":60},{"p":"B2","s":"Darks","t":1.25,"v":57},{"p":"B2","s":"Darks","t":1.5,"v":48},{"p":"B2","s":"Darks","t":1.75,"v":38},{"p":"B2","s":"Darks","t":2,"v":28},{"p":"B2","s":"Darks","t":2.25,"v":21},{"p":"B2","s":"Darks","t":2.5,"v":15},{"p":"B2","s":"Darks","t":2.75,"v":11},{"p":"B2","s":"Darks","t":3,"v":8},{"p":"B2","s":"Darks","t":3.5,"v":4},{"p":"B2","s":"Darks","t":4,"v":2},{"p":"B2","s":"Darks","t":4.5,"v":1},{"p":"B2","s":"Darks","t":5,"v":0.5},{"p":"B2","s":"Darks","t":6,"v":0},
{"p":"B2","s":"Lights","t":0,"v":0},{"p":"B2","s":"Lights","t":0.75,"v":0},{"p":"B2","s":"Lights","t":0.9,"v":6},{"p":"B2","s":"Lights","t":1,"v":15},{"p":"B2","s":"Lights","t":1.25,"v":50},{"p":"B2","s":"Lights","t":1.4,"v":58},{"p":"B2","s":"Lights","t":1.5,"v":56},{"p":"B2","s":"Lights","t":1.75,"v":50},{"p":"B2","s":"Lights","t":2,"v":42},{"p":"B2","s":"Lights","t":2.25,"v":34},{"p":"B2","s":"Lights","t":2.5,"v":27},{"p":"B2","s":"Lights","t":2.75,"v":21},{"p":"B2","s":"Lights","t":3,"v":16},{"p":"B2","s":"Lights","t":3.25,"v":12},{"p":"B2","s":"Lights","t":3.5,"v":9},{"p":"B2","s":"Lights","t":4,"v":5},{"p":"B2","s":"Lights","t":4.5,"v":3},{"p":"B2","s":"Lights","t":5,"v":1.5},{"p":"B2","s":"Lights","t":5.5,"v":1},{"p":"B2","s":"Lights","t":6,"v":0.5},
{"p":"B3","s":"Darks","t":0,"v":0},{"p":"B3","s":"Darks","t":0.7,"v":0},{"p":"B3","s":"Darks","t":0.8,"v":5},{"p":"B3","s":"Darks","t":0.9,"v":40},{"p":"B3","s":"Darks","t":1.1,"v":95},{"p":"B3","s":"Darks","t":1.2,"v":105},{"p":"B3","s":"Darks","t":1.35,"v":90},{"p":"B3","s":"Darks","t":1.5,"v":70},{"p":"B3","s":"Darks","t":1.75,"v":45},{"p":"B3","s":"Darks","t":2,"v":28},{"p":"B3","s":"Darks","t":2.25,"v":17},{"p":"B3","s":"Darks","t":2.5,"v":10},{"p":"B3","s":"Darks","t":2.75,"v":6},{"p":"B3","s":"Darks","t":3,"v":3.5},{"p":"B3","s":"Darks","t":3.5,"v":1},{"p":"B3","s":"Darks","t":4,"v":0.3},{"p":"B3","s":"Darks","t":6,"v":0},
{"p":"B3","s":"Lights","t":0,"v":0},{"p":"B3","s":"Lights","t":0.75,"v":0},{"p":"B3","s":"Lights","t":0.85,"v":3},{"p":"B3","s":"Lights","t":1,"v":12},{"p":"B3","s":"Lights","t":1.25,"v":38},{"p":"B3","s":"Lights","t":1.45,"v":46},{"p":"B3","s":"Lights","t":1.75,"v":42},{"p":"B3","s":"Lights","t":2,"v":37},{"p":"B3","s":"Lights","t":2.25,"v":31},{"p":"B3","s":"Lights","t":2.5,"v":26},{"p":"B3","s":"Lights","t":2.75,"v":22},{"p":"B3","s":"Lights","t":3,"v":18},{"p":"B3","s":"Lights","t":3.25,"v":14},{"p":"B3","s":"Lights","t":3.5,"v":11},{"p":"B3","s":"Lights","t":4,"v":6},{"p":"B3","s":"Lights","t":4.5,"v":3},{"p":"B3","s":"Lights","t":5,"v":1.5},{"p":"B3","s":"Lights","t":5.5,"v":0.7},{"p":"B3","s":"Lights","t":6,"v":0.4},
{"p":"B4","s":"Darks","t":0,"v":0},{"p":"B4","s":"Darks","t":0.4,"v":0},{"p":"B4","s":"Darks","t":0.5,"v":3},{"p":"B4","s":"Darks","t":0.75,"v":22},{"p":"B4","s":"Darks","t":1,"v":48},{"p":"B4","s":"Darks","t":1.2,"v":55},{"p":"B4","s":"Darks","t":1.35,"v":50},{"p":"B4","s":"Darks","t":1.5,"v":42},{"p":"B4","s":"Darks","t":1.75,"v":28},{"p":"B4","s":"Darks","t":2,"v":20},{"p":"B4","s":"Darks","t":2.25,"v":14},{"p":"B4","s":"Darks","t":2.5,"v":10},{"p":"B4","s":"Darks","t":2.75,"v":7},{"p":"B4","s":"Darks","t":3,"v":5},{"p":"B4","s":"Darks","t":3.5,"v":2.5},{"p":"B4","s":"Darks","t":4,"v":1},{"p":"B4","s":"Darks","t":4.5,"v":0.5},{"p":"B4","s":"Darks","t":5,"v":0},{"p":"B4","s":"Darks","t":6,"v":0},
{"p":"B4","s":"Lights","t":0,"v":0},{"p":"B4","s":"Lights","t":0.5,"v":1},{"p":"B4","s":"Lights","t":0.75,"v":3},{"p":"B4","s":"Lights","t":1,"v":9},{"p":"B4","s":"Lights","t":1.25,"v":18},{"p":"B4","s":"Lights","t":1.5,"v":27},{"p":"B4","s":"Lights","t":1.75,"v":32},{"p":"B4","s":"Lights","t":2,"v":33},{"p":"B4","s":"Lights","t":2.25,"v":32},{"p":"B4","s":"Lights","t":2.5,"v":29},{"p":"B4","s":"Lights","t":2.75,"v":25},{"p":"B4","s":"Lights","t":3,"v":21},{"p":"B4","s":"Lights","t":3.25,"v":17},{"p":"B4","s":"Lights","t":3.5,"v":14},{"p":"B4","s":"Lights","t":4,"v":9},{"p":"B4","s":"Lights","t":4.5,"v":5.5},{"p":"B4","s":"Lights","t":5,"v":3.5},{"p":"B4","s":"Lights","t":5.5,"v":2},{"p":"B4","s":"Lights","t":6,"v":1.2},
{"p":"B5","s":"Darks","t":0,"v":0},{"p":"B5","s":"Darks","t":0.5,"v":0},{"p":"B5","s":"Darks","t":0.65,"v":10},{"p":"B5","s":"Darks","t":0.75,"v":25},{"p":"B5","s":"Darks","t":0.9,"v":110},{"p":"B5","s":"Darks","t":0.97,"v":132},{"p":"B5","s":"Darks","t":1.05,"v":120},{"p":"B5","s":"Darks","t":1.25,"v":82},{"p":"B5","s":"Darks","t":1.5,"v":50},{"p":"B5","s":"Darks","t":1.75,"v":30},{"p":"B5","s":"Darks","t":2,"v":18},{"p":"B5","s":"Darks","t":2.25,"v":11},{"p":"B5","s":"Darks","t":2.5,"v":6},{"p":"B5","s":"Darks","t":2.75,"v":3.5},{"p":"B5","s":"Darks","t":3,"v":2},{"p":"B5","s":"Darks","t":3.5,"v":0.5},{"p":"B5","s":"Darks","t":4,"v":0},{"p":"B5","s":"Darks","t":6,"v":0},
{"p":"B5","s":"Lights","t":0,"v":0},{"p":"B5","s":"Lights","t":0.5,"v":1},{"p":"B5","s":"Lights","t":0.75,"v":10},{"p":"B5","s":"Lights","t":1,"v":32},{"p":"B5","s":"Lights","t":1.2,"v":55},{"p":"B5","s":"Lights","t":1.3,"v":58},{"p":"B5","s":"Lights","t":1.5,"v":54},{"p":"B5","s":"Lights","t":1.75,"v":47},{"p":"B5","s":"Lights","t":2,"v":38},{"p":"B5","s":"Lights","t":2.25,"v":29},{"p":"B5","s":"Lights","t":2.5,"v":21},{"p":"B5","s":"Lights","t":2.75,"v":15},{"p":"B5","s":"Lights","t":3,"v":10},{"p":"B5","s":"Lights","t":3.5,"v":5},{"p":"B5","s":"Lights","t":4,"v":2},{"p":"B5","s":"Lights","t":4.5,"v":1},{"p":"B5","s":"Lights","t":5,"v":0},{"p":"B5","s":"Lights","t":6,"v":0},
{"p":"B6","s":"Darks","t":0,"v":0},{"p":"B6","s":"Darks","t":0.5,"v":0},{"p":"B6","s":"Darks","t":0.6,"v":10},{"p":"B6","s":"Darks","t":0.75,"v":45},{"p":"B6","s":"Darks","t":0.9,"v":100},{"p":"B6","s":"Darks","t":1,"v":98},{"p":"B6","s":"Darks","t":1.25,"v":75},{"p":"B6","s":"Darks","t":1.5,"v":50},{"p":"B6","s":"Darks","t":1.75,"v":33},{"p":"B6","s":"Darks","t":2,"v":22},{"p":"B6","s":"Darks","t":2.25,"v":15},{"p":"B6","s":"Darks","t":2.5,"v":10},{"p":"B6","s":"Darks","t":2.75,"v":7},{"p":"B6","s":"Darks","t":3,"v":5},{"p":"B6","s":"Darks","t":3.5,"v":2.5},{"p":"B6","s":"Darks","t":4,"v":1.2},{"p":"B6","s":"Darks","t":4.5,"v":0.6},{"p":"B6","s":"Darks","t":5,"v":0.3},{"p":"B6","s":"Darks","t":6,"v":0},
{"p":"B6","s":"Lights","t":0,"v":0},{"p":"B6","s":"Lights","t":0.25,"v":1},{"p":"B6","s":"Lights","t":0.5,"v":2},{"p":"B6","s":"Lights","t":0.75,"v":6},{"p":"B6","s":"Lights","t":1,"v":12},{"p":"B6","s":"Lights","t":1.25,"v":19},{"p":"B6","s":"Lights","t":1.5,"v":26},{"p":"B6","s":"Lights","t":1.75,"v":32},{"p":"B6","s":"Lights","t":2,"v":36},{"p":"B6","s":"Lights","t":2.25,"v":38},{"p":"B6","s":"Lights","t":2.5,"v":38},{"p":"B6","s":"Lights","t":2.75,"v":36},{"p":"B6","s":"Lights","t":3,"v":33},{"p":"B6","s":"Lights","t":3.25,"v":29},{"p":"B6","s":"Lights","t":3.5,"v":25},{"p":"B6","s":"Lights","t":3.75,"v":21},{"p":"B6","s":"Lights","t":4,"v":17},{"p":"B6","s":"Lights","t":4.5,"v":11},{"p":"B6","s":"Lights","t":5,"v":7},{"p":"B6","s":"Lights","t":5.5,"v":4},{"p":"B6","s":"Lights","t":6,"v":2.5}
]
},
"spacing":279,
"bounds":"flush",
"resolve":{"scale":{"x":"independent","y":"independent","stroke":"independent"},"legend":{"stroke":"independent"},"axis":{"x":"independent","y":"independent"}},
"vconcat":[
{"title":{"text":"A","fontSize":21,"dx":-82,"offset":-4},
 "spacing":75,"bounds":"flush",
 "resolve":{"scale":{"x":"independent","y":"independent","stroke":"independent"},"legend":{"stroke":"independent"},"axis":{"x":"independent","y":"independent"}},
 "hconcat":[
{"width":134,"height":132,
 "title":{"text":"Normal subjects","fontSize":19,"dx":-49,"offset":18},
 "encoding":{"x":{"field":"t","type":"quantitative","scale":{"domain":[0,6],"nice":false},"axis":{"values":[0,2,4,6],"title":"Reaction time (sec)"}},"y":{"field":"v","type":"quantitative","scale":{"domain":[0,100],"nice":false},"axis":{"values":[0,50,100],"title":"# correct trials"}}},
 "layer":[
  {"data":{"name":"obs"},"transform":[{"filter":"datum.p=='A1' && datum.s=='Darks'"}],"mark":{"type":"circle","color":"#1a1a1a","size":80,"opacity":1}},
  {"data":{"name":"obs"},"transform":[{"filter":"datum.p=='A1' && datum.s=='Lights'"}],"mark":{"type":"point","shape":"circle","filled":false,"color":"#8c8c8c","strokeWidth":3,"size":75,"opacity":1}},
  {"data":{"name":"fit"},"transform":[{"filter":"datum.p=='A1'"}],"mark":{"type":"line","interpolate":"monotone","strokeWidth":2.8},"encoding":{"stroke":{"field":"s","type":"nominal","scale":{"domain":["Darks","Lights"],"range":["#1a1a1a","#8c8c8c"]},"legend":{"orient":"none","legendX":72,"legendY":-4,"title":null,"symbolType":"stroke","symbolSize":400,"symbolStrokeWidth":3,"labelFont":"Liberation Sans","labelFontSize":19,"labelColor":"#1a1a1a","rowPadding":5,"labelOffset":5}}}}
 ]},
{"width":134,"height":132,
 "encoding":{"x":{"field":"t","type":"quantitative","scale":{"domain":[0,6],"nice":false},"axis":{"values":[0,2,4,6],"title":"Reaction time (sec)"}},"y":{"field":"v","type":"quantitative","scale":{"domain":[0,50],"nice":false},"axis":{"values":[0,25,50],"title":null}}},
 "layer":[
  {"data":{"name":"obs"},"transform":[{"filter":"datum.p=='A2' && datum.s=='Darks'"}],"mark":{"type":"circle","color":"#1a1a1a","size":80,"opacity":1}},
  {"data":{"name":"obs"},"transform":[{"filter":"datum.p=='A2' && datum.s=='Lights'"}],"mark":{"type":"point","shape":"circle","filled":false,"color":"#8c8c8c","strokeWidth":3,"size":75,"opacity":1}},
  {"data":{"name":"fit"},"transform":[{"filter":"datum.p=='A2'"}],"mark":{"type":"line","interpolate":"monotone","strokeWidth":2.8},"encoding":{"stroke":{"field":"s","type":"nominal","scale":{"domain":["Darks","Lights"],"range":["#1a1a1a","#8c8c8c"]},"legend":null}}}
 ]},
{"width":134,"height":132,
 "encoding":{"x":{"field":"t","type":"quantitative","scale":{"domain":[0,6],"nice":false},"axis":{"values":[0,2,4,6],"title":"Reaction time (sec)"}},"y":{"field":"v","type":"quantitative","scale":{"domain":[0,200],"nice":false},"axis":{"values":[0,100,200],"title":null}}},
 "layer":[
  {"data":{"name":"obs"},"transform":[{"filter":"datum.p=='A3' && datum.s=='Darks'"}],"mark":{"type":"circle","color":"#1a1a1a","size":80,"opacity":1}},
  {"data":{"name":"obs"},"transform":[{"filter":"datum.p=='A3' && datum.s=='Lights'"}],"mark":{"type":"point","shape":"circle","filled":false,"color":"#8c8c8c","strokeWidth":3,"size":75,"opacity":1}},
  {"data":{"name":"fit"},"transform":[{"filter":"datum.p=='A3'"}],"mark":{"type":"line","interpolate":"monotone","strokeWidth":2.8},"encoding":{"stroke":{"field":"s","type":"nominal","scale":{"domain":["Darks","Lights"],"range":["#1a1a1a","#8c8c8c"]},"legend":null}}}
 ]},
{"width":134,"height":132,
 "encoding":{"x":{"field":"t","type":"quantitative","scale":{"domain":[0,6],"nice":false},"axis":{"values":[0,2,4,6],"title":"Reaction time (sec)"}},"y":{"field":"v","type":"quantitative","scale":{"domain":[0,200],"nice":false},"axis":{"values":[0,100,200],"title":null}}},
 "layer":[
  {"data":{"name":"obs"},"transform":[{"filter":"datum.p=='A4' && datum.s=='Darks'"}],"mark":{"type":"circle","color":"#1a1a1a","size":80,"opacity":1}},
  {"data":{"name":"obs"},"transform":[{"filter":"datum.p=='A4' && datum.s=='Lights'"}],"mark":{"type":"point","shape":"circle","filled":false,"color":"#8c8c8c","strokeWidth":3,"size":75,"opacity":1}},
  {"data":{"name":"fit"},"transform":[{"filter":"datum.p=='A4'"}],"mark":{"type":"line","interpolate":"monotone","strokeWidth":2.8},"encoding":{"stroke":{"field":"s","type":"nominal","scale":{"domain":["Darks","Lights"],"range":["#1a1a1a","#8c8c8c"]},"legend":null}}}
 ]},
{"width":134,"height":132,
 "encoding":{"x":{"field":"t","type":"quantitative","scale":{"domain":[0,6],"nice":false},"axis":{"values":[0,2,4,6],"title":"Reaction time (sec)"}},"y":{"field":"v","type":"quantitative","scale":{"domain":[0,100],"nice":false},"axis":{"values":[0,50,100],"title":null}}},
 "layer":[
  {"data":{"name":"obs"},"transform":[{"filter":"datum.p=='A5' && datum.s=='Darks'"}],"mark":{"type":"circle","color":"#1a1a1a","size":80,"opacity":1}},
  {"data":{"name":"obs"},"transform":[{"filter":"datum.p=='A5' && datum.s=='Lights'"}],"mark":{"type":"point","shape":"circle","filled":false,"color":"#8c8c8c","strokeWidth":3,"size":75,"opacity":1}},
  {"data":{"name":"fit"},"transform":[{"filter":"datum.p=='A5'"}],"mark":{"type":"line","interpolate":"monotone","strokeWidth":2.8},"encoding":{"stroke":{"field":"s","type":"nominal","scale":{"domain":["Darks","Lights"],"range":["#1a1a1a","#8c8c8c"]},"legend":null}}}
 ]},
{"width":134,"height":132,
 "encoding":{"x":{"field":"t","type":"quantitative","scale":{"domain":[0,6],"nice":false},"axis":{"values":[0,2,4,6],"title":"Reaction time (sec)"}},"y":{"field":"v","type":"quantitative","scale":{"domain":[0,200],"nice":false},"axis":{"values":[0,100,200],"title":null}}},
 "layer":[
  {"data":{"name":"obs"},"transform":[{"filter":"datum.p=='A6' && datum.s=='Darks'"}],"mark":{"type":"circle","color":"#1a1a1a","size":80,"opacity":1}},
  {"data":{"name":"obs"},"transform":[{"filter":"datum.p=='A6' && datum.s=='Lights'"}],"mark":{"type":"point","shape":"circle","filled":false,"color":"#8c8c8c","strokeWidth":3,"size":75,"opacity":1}},
  {"data":{"name":"fit"},"transform":[{"filter":"datum.p=='A6'"}],"mark":{"type":"line","interpolate":"monotone","strokeWidth":2.8},"encoding":{"stroke":{"field":"s","type":"nominal","scale":{"domain":["Darks","Lights"],"range":["#1a1a1a","#8c8c8c"]},"legend":null}}}
 ]}
 ]},
{"title":{"text":"B","fontSize":21,"dx":-82,"offset":-4},
 "spacing":75,"bounds":"flush",
 "resolve":{"scale":{"x":"independent","y":"independent","stroke":"independent"},"legend":{"stroke":"independent"},"axis":{"x":"independent","y":"independent"}},
 "hconcat":[
{"width":134,"height":133,
 "title":{"text":"Glaucoma subjects","fontSize":19,"dx":-49,"offset":18},
 "encoding":{"x":{"field":"t","type":"quantitative","scale":{"domain":[0,6],"nice":false},"axis":{"values":[0,2,4,6],"title":"Reaction time (sec)"}},"y":{"field":"v","type":"quantitative","scale":{"domain":[0,50],"nice":false},"axis":{"values":[0,25,50],"title":"# correct trials"}}},
 "layer":[
  {"data":{"name":"obs"},"transform":[{"filter":"datum.p=='B1' && datum.s=='Darks'"}],"mark":{"type":"circle","color":"#1a1a1a","size":80,"opacity":1}},
  {"data":{"name":"obs"},"transform":[{"filter":"datum.p=='B1' && datum.s=='Lights'"}],"mark":{"type":"point","shape":"circle","filled":false,"color":"#8c8c8c","strokeWidth":3,"size":75,"opacity":1}},
  {"data":{"name":"fit"},"transform":[{"filter":"datum.p=='B1'"}],"mark":{"type":"line","interpolate":"monotone","strokeWidth":2.8,"strokeDash":[7,4]},"encoding":{"stroke":{"field":"s","type":"nominal","scale":{"domain":["Darks","Lights"],"range":["#1a1a1a","#8c8c8c"]},"legend":{"orient":"none","legendX":72,"legendY":-4,"title":null,"symbolType":"stroke","symbolSize":400,"symbolStrokeWidth":3,"symbolDash":[5,4],"labelFont":"Liberation Sans","labelFontSize":19,"labelColor":"#1a1a1a","rowPadding":5,"labelOffset":5}}}}
 ]},
{"width":134,"height":133,
 "encoding":{"x":{"field":"t","type":"quantitative","scale":{"domain":[0,6],"nice":false},"axis":{"values":[0,2,4,6],"title":"Reaction time (sec)"}},"y":{"field":"v","type":"quantitative","scale":{"domain":[0,100],"nice":false},"axis":{"values":[0,50,100],"title":null}}},
 "layer":[
  {"data":{"name":"obs"},"transform":[{"filter":"datum.p=='B2' && datum.s=='Darks'"}],"mark":{"type":"circle","color":"#1a1a1a","size":80,"opacity":1}},
  {"data":{"name":"obs"},"transform":[{"filter":"datum.p=='B2' && datum.s=='Lights'"}],"mark":{"type":"point","shape":"circle","filled":false,"color":"#8c8c8c","strokeWidth":3,"size":75,"opacity":1}},
  {"data":{"name":"fit"},"transform":[{"filter":"datum.p=='B2'"}],"mark":{"type":"line","interpolate":"monotone","strokeWidth":2.8,"strokeDash":[7,4]},"encoding":{"stroke":{"field":"s","type":"nominal","scale":{"domain":["Darks","Lights"],"range":["#1a1a1a","#8c8c8c"]},"legend":null}}}
 ]},
{"width":134,"height":133,
 "encoding":{"x":{"field":"t","type":"quantitative","scale":{"domain":[0,6],"nice":false},"axis":{"values":[0,2,4,6],"title":"Reaction time (sec)"}},"y":{"field":"v","type":"quantitative","scale":{"domain":[0,200],"nice":false},"axis":{"values":[0,100,200],"title":null}}},
 "layer":[
  {"data":{"name":"obs"},"transform":[{"filter":"datum.p=='B3' && datum.s=='Darks'"}],"mark":{"type":"circle","color":"#1a1a1a","size":80,"opacity":1}},
  {"data":{"name":"obs"},"transform":[{"filter":"datum.p=='B3' && datum.s=='Lights'"}],"mark":{"type":"point","shape":"circle","filled":false,"color":"#8c8c8c","strokeWidth":3,"size":75,"opacity":1}},
  {"data":{"name":"fit"},"transform":[{"filter":"datum.p=='B3'"}],"mark":{"type":"line","interpolate":"monotone","strokeWidth":2.8,"strokeDash":[7,4]},"encoding":{"stroke":{"field":"s","type":"nominal","scale":{"domain":["Darks","Lights"],"range":["#1a1a1a","#8c8c8c"]},"legend":null}}}
 ]},
{"width":134,"height":133,
 "encoding":{"x":{"field":"t","type":"quantitative","scale":{"domain":[0,6],"nice":false},"axis":{"values":[0,2,4,6],"title":"Reaction time (sec)"}},"y":{"field":"v","type":"quantitative","scale":{"domain":[0,100],"nice":false},"axis":{"values":[0,50,100],"title":null}}},
 "layer":[
  {"data":{"name":"obs"},"transform":[{"filter":"datum.p=='B4' && datum.s=='Darks'"}],"mark":{"type":"circle","color":"#1a1a1a","size":80,"opacity":1}},
  {"data":{"name":"obs"},"transform":[{"filter":"datum.p=='B4' && datum.s=='Lights'"}],"mark":{"type":"point","shape":"circle","filled":false,"color":"#8c8c8c","strokeWidth":3,"size":75,"opacity":1}},
  {"data":{"name":"fit"},"transform":[{"filter":"datum.p=='B4'"}],"mark":{"type":"line","interpolate":"monotone","strokeWidth":2.8,"strokeDash":[7,4]},"encoding":{"stroke":{"field":"s","type":"nominal","scale":{"domain":["Darks","Lights"],"range":["#1a1a1a","#8c8c8c"]},"legend":null}}}
 ]},
{"width":134,"height":133,
 "encoding":{"x":{"field":"t","type":"quantitative","scale":{"domain":[0,6],"nice":false},"axis":{"values":[0,2,4,6],"title":"Reaction time (sec)"}},"y":{"field":"v","type":"quantitative","scale":{"domain":[0,200],"nice":false},"axis":{"values":[0,100,200],"title":null}}},
 "layer":[
  {"data":{"name":"obs"},"transform":[{"filter":"datum.p=='B5' && datum.s=='Darks'"}],"mark":{"type":"circle","color":"#1a1a1a","size":80,"opacity":1}},
  {"data":{"name":"obs"},"transform":[{"filter":"datum.p=='B5' && datum.s=='Lights'"}],"mark":{"type":"point","shape":"circle","filled":false,"color":"#8c8c8c","strokeWidth":3,"size":75,"opacity":1}},
  {"data":{"name":"fit"},"transform":[{"filter":"datum.p=='B5'"}],"mark":{"type":"line","interpolate":"monotone","strokeWidth":2.8,"strokeDash":[7,4]},"encoding":{"stroke":{"field":"s","type":"nominal","scale":{"domain":["Darks","Lights"],"range":["#1a1a1a","#8c8c8c"]},"legend":null}}}
 ]},
{"width":134,"height":133,
 "encoding":{"x":{"field":"t","type":"quantitative","scale":{"domain":[0,6],"nice":false},"axis":{"values":[0,2,4,6],"title":"Reaction time (sec)"}},"y":{"field":"v","type":"quantitative","scale":{"domain":[0,200],"nice":false},"axis":{"values":[0,100,200],"title":null}}},
 "layer":[
  {"data":{"name":"obs"},"transform":[{"filter":"datum.p=='B6' && datum.s=='Darks'"}],"mark":{"type":"circle","color":"#1a1a1a","size":80,"opacity":1}},
  {"data":{"name":"obs"},"transform":[{"filter":"datum.p=='B6' && datum.s=='Lights'"}],"mark":{"type":"point","shape":"circle","filled":false,"color":"#8c8c8c","strokeWidth":3,"size":75,"opacity":1}},
  {"data":{"name":"fit"},"transform":[{"filter":"datum.p=='B6'"}],"mark":{"type":"line","interpolate":"monotone","strokeWidth":2.8,"strokeDash":[7,4]},"encoding":{"stroke":{"field":"s","type":"nominal","scale":{"domain":["Darks","Lights"],"range":["#1a1a1a","#8c8c8c"]},"legend":null}}}
 ]}
 ]}
]
}
